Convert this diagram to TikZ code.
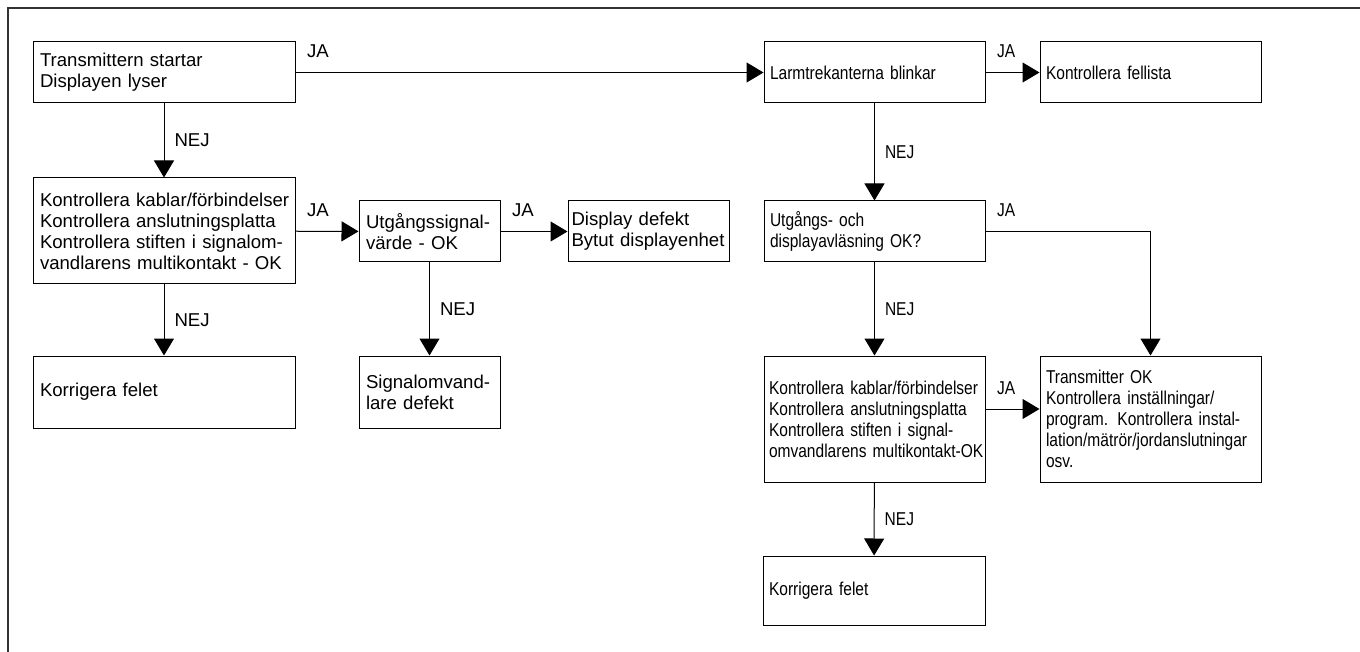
\documentclass[tikz,border=0pt]{standalone}
\usepackage{fontspec}
\setmainfont[WordSpace=0.8]{Liberation Sans}
\newfontfamily\narrowfont[FakeStretch=0.835,WordSpace=0.7]{Liberation Sans}
\usetikzlibrary{arrows.meta}

\begin{document}
\begin{tikzpicture}[x=1pt,y=-1pt,
  box/.style={draw,line width=1pt,align=left,inner xsep=7pt,inner ysep=0pt,font=\fontsize{18.6}{21}\selectfont},
  rbox/.style={box,inner xsep=6pt,font=\narrowfont\fontsize{18.6}{21}\selectfont},
  pil/.style={line width=1pt,-{Triangle[length=17pt,width=20pt]}},
  ja/.style={pos=0,anchor=south west,inner sep=0pt,xshift=11pt,yshift=14pt,font=\fontsize{18.6}{21}\selectfont},
  nej/.style={midway,anchor=west,inner sep=0pt,xshift=10pt,font=\fontsize{18.6}{21}\selectfont},
  rja/.style={ja,font=\narrowfont\fontsize{18.6}{21}\selectfont},
  rnej/.style={nej,font=\narrowfont\fontsize{18.6}{21}\selectfont}]

\useasboundingbox (0,0) rectangle (1360,652);

\draw[line width=1.2pt,black!80] (8,652) -- (8,8) -- (1360,8);

\node[box,text width=248,minimum height=61] (start) at (164,72.5) {Transmittern startar\\Displayen lyser};

\node[box,text width=248,minimum height=106] (kabel1) at (164,231) {\mbox{Kontrollera kablar/förbindelser}\\Kontrollera anslutningsplatta\\Kontrollera stiften i signalom-\\vandlarens multikontakt - OK};

\node[box,text width=248,minimum height=72] (korr1) at (164,392) {Korrigera felet};

\node[box,text width=127,minimum height=61] (signal) at (429.5,231.5) {Utgångssignal-\\värde - OK};

\node[box,text width=154,inner xsep=3.5pt,minimum height=61] (display) at (648.5,231.5) {Display defekt\\Bytut displayenhet};

\node[box,text width=127,minimum height=72] (omvand) at (429.5,392) {Signalomvand-\\lare defekt};

\node[rbox,text width=209,minimum height=61] (larm) at (874.5,72.5) {Larmtrekanterna blinkar};

\node[rbox,text width=209,minimum height=61] (fellista) at (1150.5,72.5) {Kontrollera fellista};

\node[rbox,text width=209,minimum height=61] (avlas) at (874.5,231.5) {Utgångs- och\\displayavläsning OK?};

\node[rbox,text width=211,inner xsep=5pt,minimum height=126] (kabel2) at (874.5,419) {Kontrollera kablar/förbindelser\\Kontrollera anslutningsplatta\\Kontrollera stiften i signal-\\\mbox{omvandlarens multikontakt-OK}};

\node[rbox,text width=209,minimum height=126] (tmok) at (1150.5,419) {Transmitter OK\\Kontrollera inställningar/\\program. Kontrollera instal-\\lation/mätrör/jordanslutningar\\osv.};

\node[rbox,text width=210,minimum height=69] (korr2) at (874,590.5) {Korrigera felet};

\draw[pil] (start) -- (kabel1) node[nej]{NEJ};

\draw[pil] (kabel1) -- (korr1) node[nej]{NEJ};

\draw[pil] (kabel1) -- (signal) node[ja]{JA};

\draw[pil] (signal) -- (display) node[ja]{JA};

\draw[pil] (signal) -- (omvand) node[nej]{NEJ};

\draw[pil] (start) -- (larm) node[ja]{JA};

\draw[pil] (larm) -- (fellista) node[rja]{JA};

\draw[pil] (larm) -- (avlas) node[rnej]{NEJ};

\draw[pil] (avlas.east) -| (tmok.north) node[rja]{JA};

\draw[pil] (avlas) -- (kabel2) node[rnej]{NEJ};

\draw[pil] ([yshift=10pt]kabel2.east) -- ([yshift=10pt]tmok.west) node[rja]{JA};

\draw[pil] (kabel2) -- (korr2) node[rnej]{NEJ};

\end{tikzpicture}
\end{document}
